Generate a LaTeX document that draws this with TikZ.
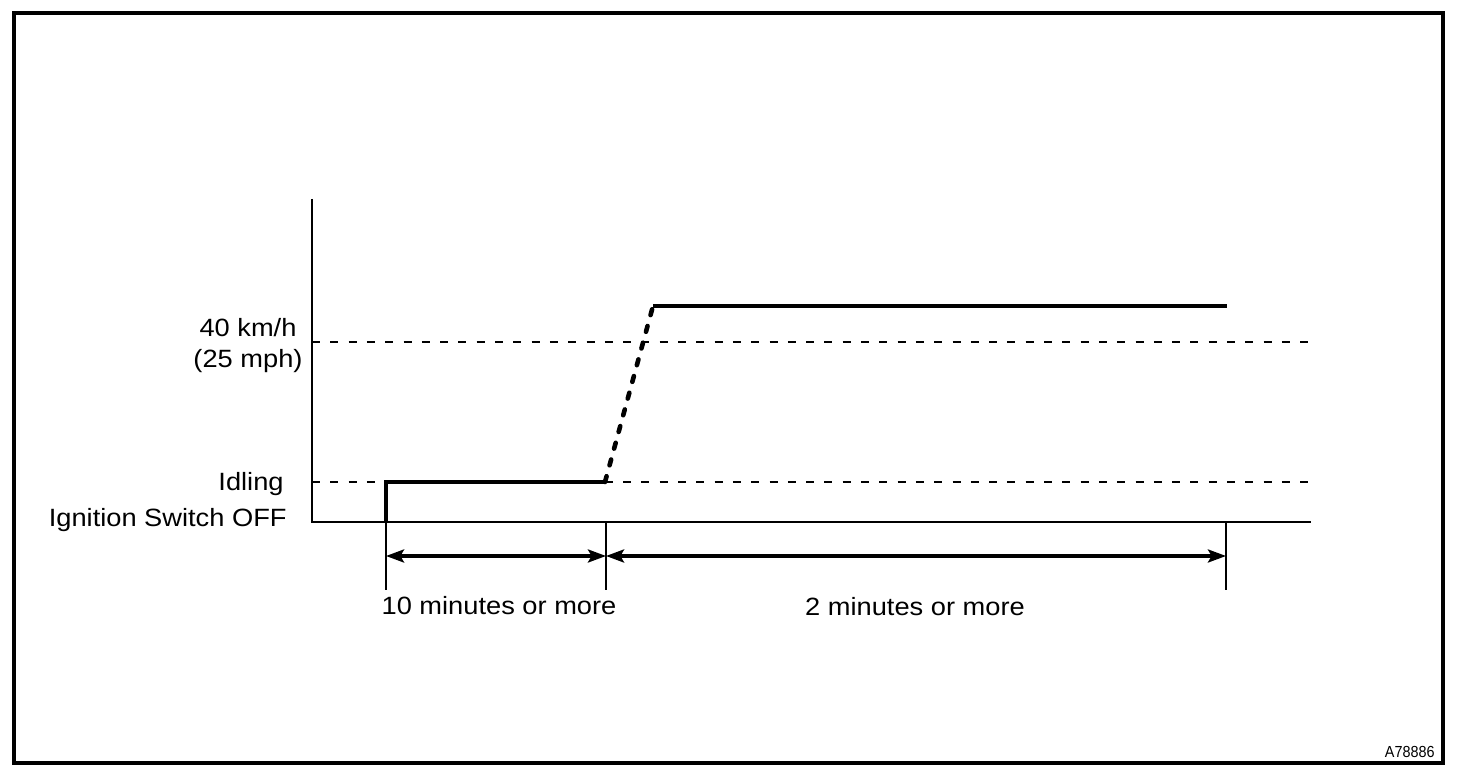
\documentclass[tikz,border=0pt]{standalone}
\usepackage{fontspec}
\setmainfont{Liberation Sans}[FakeStretch=1.09]
\newfontfamily\codefont{Liberation Sans}[FakeStretch=0.9]
\usetikzlibrary{arrows.meta}
\begin{document}
\begin{tikzpicture}[x=0.5pt,y=-0.5pt,
  frame/.style={line width=1.8pt},
  axisline/.style={line width=0.9pt},
  guide/.style={line width=0.85pt,dash pattern=on 4pt off 5.15pt},
  speed/.style={line width=2pt},
  ramp/.style={line width=2.3pt,line cap=round,dash pattern=on 3pt off 5.65pt},
  span/.style={line width=1.7pt,{Stealth[length=9pt,width=6.5pt,inset=1.8pt]}-{Stealth[length=9pt,width=6.5pt,inset=1.8pt]}},
  lbl/.style={inner sep=0pt,font=\fontsize{12.5pt}{14pt}\selectfont}]
\useasboundingbox (0,0) rectangle (1472,774);
\draw[frame] (14,13) rectangle (1443,763);
% axes
\coordinate (O) at (312,522);
\coordinate (ytop) at (312,199);
\coordinate (xend) at (1311,522);
\draw[axisline] (ytop) -- (O) -- (xend);
% guide lines
\coordinate (g40a) at (312,342);
\coordinate (g40b) at (1311,342);
\coordinate (gida) at (312,482);
\coordinate (gidb) at (1311,482);
\draw[guide] (g40a) -- (g40b);
\draw[guide] (gida) -- (gidb);
% speed profile
\coordinate (p0) at (386,522);
\coordinate (p1) at (386,482);
\coordinate (p2) at (605,482);
\coordinate (p3) at (653,306);
\coordinate (p4) at (1227,306);
\draw[speed] (p0) -- (p1) -- (p2);
\draw[ramp] (p2) -- (p3);
\draw[speed] (p3) -- (p4);
% ticks
\coordinate (t1a) at (386,522); \coordinate (t1b) at (386,590);
\coordinate (t2a) at (606,522); \coordinate (t2b) at (606,590);
\coordinate (t3a) at (1226,522); \coordinate (t3b) at (1226,590);
\draw[axisline] (t1a) -- (t1b);
\draw[axisline] (t2a) -- (t2b);
\draw[axisline] (t3a) -- (t3b);
% spans
\coordinate (s1) at (386,556);
\coordinate (s2) at (606,556);
\coordinate (s3) at (1226,556);
\draw[span] (s1) -- (s2);
\draw[span] (s2) -- (s3);
% labels
\node[lbl,anchor=base] (l40) at (248,337) {40 km/h};
\node[lbl,anchor=base] (l25) at (248,368) {(25 mph)};
\node[lbl,anchor=base east] (lidle) at (284,491) {Idling};
\node[lbl,anchor=base east] (loff) at (287,527) {Ignition Switch OFF};
\node[lbl,anchor=base] (ten) at (499,614) {10 minutes or more};
\node[lbl,anchor=base] (two) at (915,616) {2 minutes or more};
\node[inner sep=0pt,anchor=base east,font=\codefont\fontsize{8pt}{9pt}\selectfont] (code) at (1435,757) {A78886};
\end{tikzpicture}
\end{document}
